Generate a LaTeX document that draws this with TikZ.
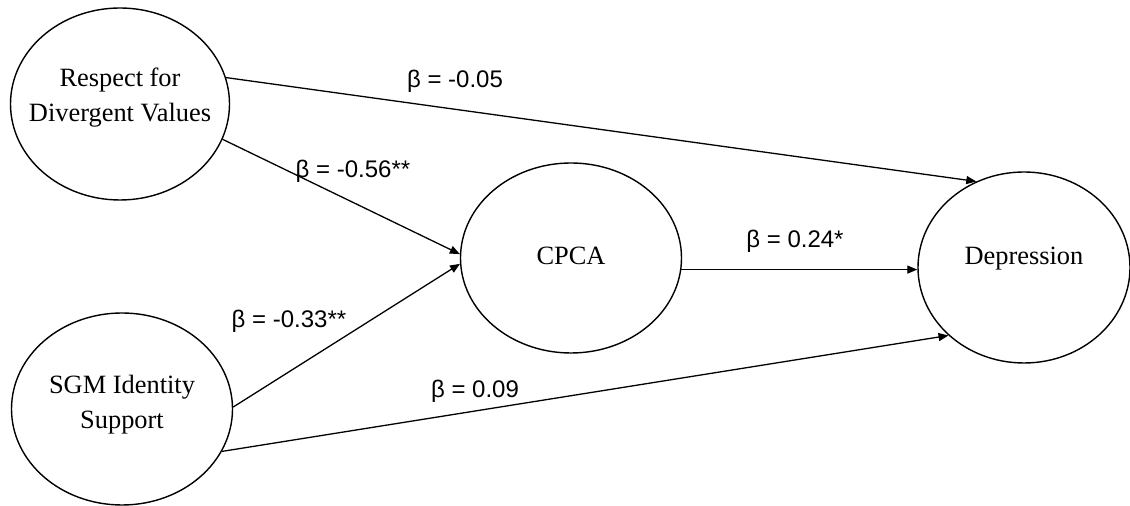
\documentclass[tikz,border=0pt]{standalone}
\usepackage{fontspec}
\setmainfont{Liberation Serif}
\newfontfamily\coeffont{Liberation Sans}
\usetikzlibrary{shapes.geometric,arrows.meta}

\begin{document}
\begin{tikzpicture}[x=0.5pt,y=-0.5pt,
    latent/.style={draw,ellipse,line width=0.7pt,inner sep=0pt},
    effect/.style={line width=0.65pt,-{Triangle[length=5pt,width=4pt]}},
    coef/.style={font=\coeffont\fontsize{12}{14}\selectfont,inner sep=0pt},
    every label/.style={font=\fontsize{13.2}{17.5}\selectfont,align=center}]
    \useasboundingbox (0,0) rectangle (1130,506);
    % Latent variables:
    \node[latent,minimum width=109.5pt,minimum height=96pt,
        label={[yshift=3pt]center:Respect for\\Divergent Values}] (rdv) at (120,104) {};
    \node[latent,minimum width=110.5pt,minimum height=96pt,
        label={[yshift=2pt]center:SGM Identity\\Support}] (sgm) at (122,409) {};
    \node[latent,minimum width=110.5pt,minimum height=95pt,
        label={[yshift=1pt]center:CPCA}] (cpca) at (571,258) {};
    \node[latent,minimum width=106pt,minimum height=95.5pt,
        label={[yshift=4.5pt]center:Depression}] (dep) at (1024,267.5) {};
    % Paths and coefficients:
    \draw[effect] (rdv.14) -- (dep.119);
    \draw[effect] (rdv.-19) -- (cpca.178);
    \draw[effect] (sgm.1) -- (cpca.183);
    \draw[effect] (sgm.-23) -- (dep.222);
    \draw[effect] (cpca.-6) -- (cpca.-6 -| dep.west);
    \node[coef] (b1) at (455,81) {β = -0.05};
    \node[coef] (b2) at (353,171) {β = -0.56**};
    \node[coef] (b3) at (289,321) {β = -0.33**};
    \node[coef] (b4) at (475,391) {β = 0.09};
    \node[coef] (b5) at (795,241) {β = 0.24*};
\end{tikzpicture}
\end{document}
